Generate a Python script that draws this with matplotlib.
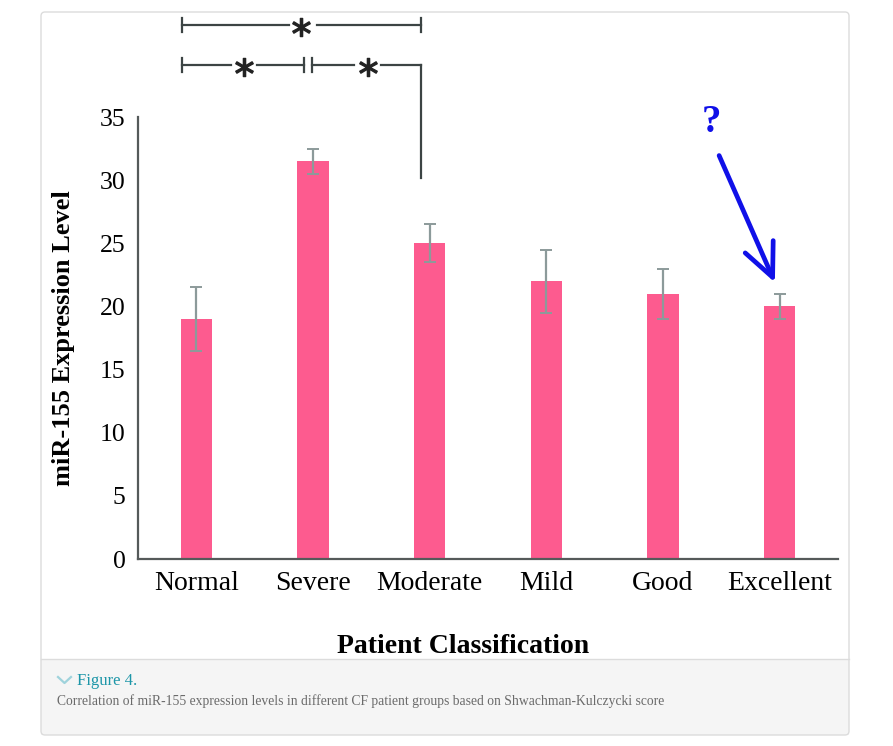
import matplotlib.pyplot as plt
from matplotlib.patches import FancyBboxPatch, Rectangle

# data
categories = ["Normal", "Severe", "Moderate", "Mild", "Good", "Excellent"]
expression = [19, 31.5, 25, 22, 21, 20]
error = [2.5, 1, 1.5, 2.5, 2, 1]
y_ticks = [0, 5, 10, 15, 20, 25, 30, 35]

W, H = 893, 746
fig = plt.figure(figsize=(W / 100, H / 100), dpi=100)

# page card in pixel coords
bg = fig.add_axes([0, 0, 1, 1], zorder=0)
bg.set_xlim(0, W)
bg.set_ylim(H, 0)
bg.axis("off")
bg.add_patch(Rectangle((41, 659), 808, 76, facecolor="#f5f5f5", edgecolor="none"))
bg.add_patch(FancyBboxPatch((41, 12), 808, 723, boxstyle="round,pad=0,rounding_size=4",
                            facecolor="none", edgecolor="#dcdcdc", lw=1))
bg.plot([41, 849], [659, 659], color="#dcdcdc", lw=1)
bg.plot([58, 64.5, 71], [677, 683, 677], color="#9fd3dc", lw=1.6)
bg.text(77, 681, "Figure 4.", color="#1d96a8", fontsize=12, family="Liberation Serif",
        va="center", ha="left")
bg.text(57, 701, "Correlation of miR-155 expression levels in different CF patient groups "
        "based on Shwachman-Kulczycki score", color="#6b6b6b", fontsize=9.8,
        family="Liberation Serif", va="center", ha="left")

# blue annotation
bg.text(711, 123, "?", color="#1010e8", fontsize=28, fontweight="bold",
        family="Liberation Serif", ha="center", va="center")
bg.annotate("", xy=(776, 285), xytext=(718, 153),
            arrowprops=dict(arrowstyle="->,head_length=2.4,head_width=1.1",
                            color="#1010e8", lw=3.4))

# main chart
ax = fig.add_axes([138 / W, 1 - 559 / H, 700 / W, 442 / H], zorder=1)
ax.patch.set_alpha(0)
x = list(range(len(categories)))
ax.bar(x, expression, width=0.27, color="#fd5b8f", zorder=2)
ax.errorbar(x, expression, yerr=error, fmt="none", ecolor="#8c9a9a", elinewidth=1.6,
            capsize=4, capthick=1.4, zorder=3)

ax.set_xlim(-0.5, 5.5)
ax.set_ylim(0, 35)
ax.set_yticks(y_ticks)
ax.set_xticks(x)
ax.set_xticklabels(categories, family="Liberation Serif", fontsize=20)
ax.set_yticklabels([str(t) for t in y_ticks], family="Liberation Serif", fontsize=18.5)
ax.tick_params(axis="y", length=0, pad=9)
ax.tick_params(axis="x", length=0, pad=9)
for s in ["top", "right"]:
    ax.spines[s].set_visible(False)
for s in ["left", "bottom"]:
    ax.spines[s].set_color("#555a5a")
    ax.spines[s].set_linewidth(1.6)

ax.set_ylabel("miR-155 Expression Level", family="Liberation Serif", fontsize=19,
              fontweight="bold", labelpad=18)
ax.set_xlabel("Patient Classification", family="Liberation Serif", fontsize=20,
              fontweight="bold")
ax.xaxis.set_label_coords(0.464, -0.17)

# significance brackets
lc = "#3c4444"
kw = dict(color=lc, lw=1.6, clip_on=False)


def bracket(x0, x1, y, gap0, gap1, star, drop_right=None):
    ax.plot([x0, gap0], [y, y], **kw)
    ax.plot([gap1, x1], [y, y], **kw)
    ax.plot([x0, x0], [y - 0.55, y + 0.55], **kw)
    if drop_right is None:
        ax.plot([x1, x1], [y - 0.55, y + 0.55], **kw)
    else:
        ax.plot([x1, x1], [drop_right, y], **kw)
    ax.plot([star], [y - 0.15], marker="$*$", markersize=13, color="#222",
            clip_on=False, markeredgewidth=1.0)


bracket(-0.12, 1.93, 42.3, 0.79, 1.03, 0.90)
bracket(-0.12, 0.92, 39.1, 0.30, 0.52, 0.41)
bracket(0.99, 1.93, 39.1, 1.35, 1.58, 1.47, drop_right=30.2)

fig.savefig("out.png", dpi=100)
